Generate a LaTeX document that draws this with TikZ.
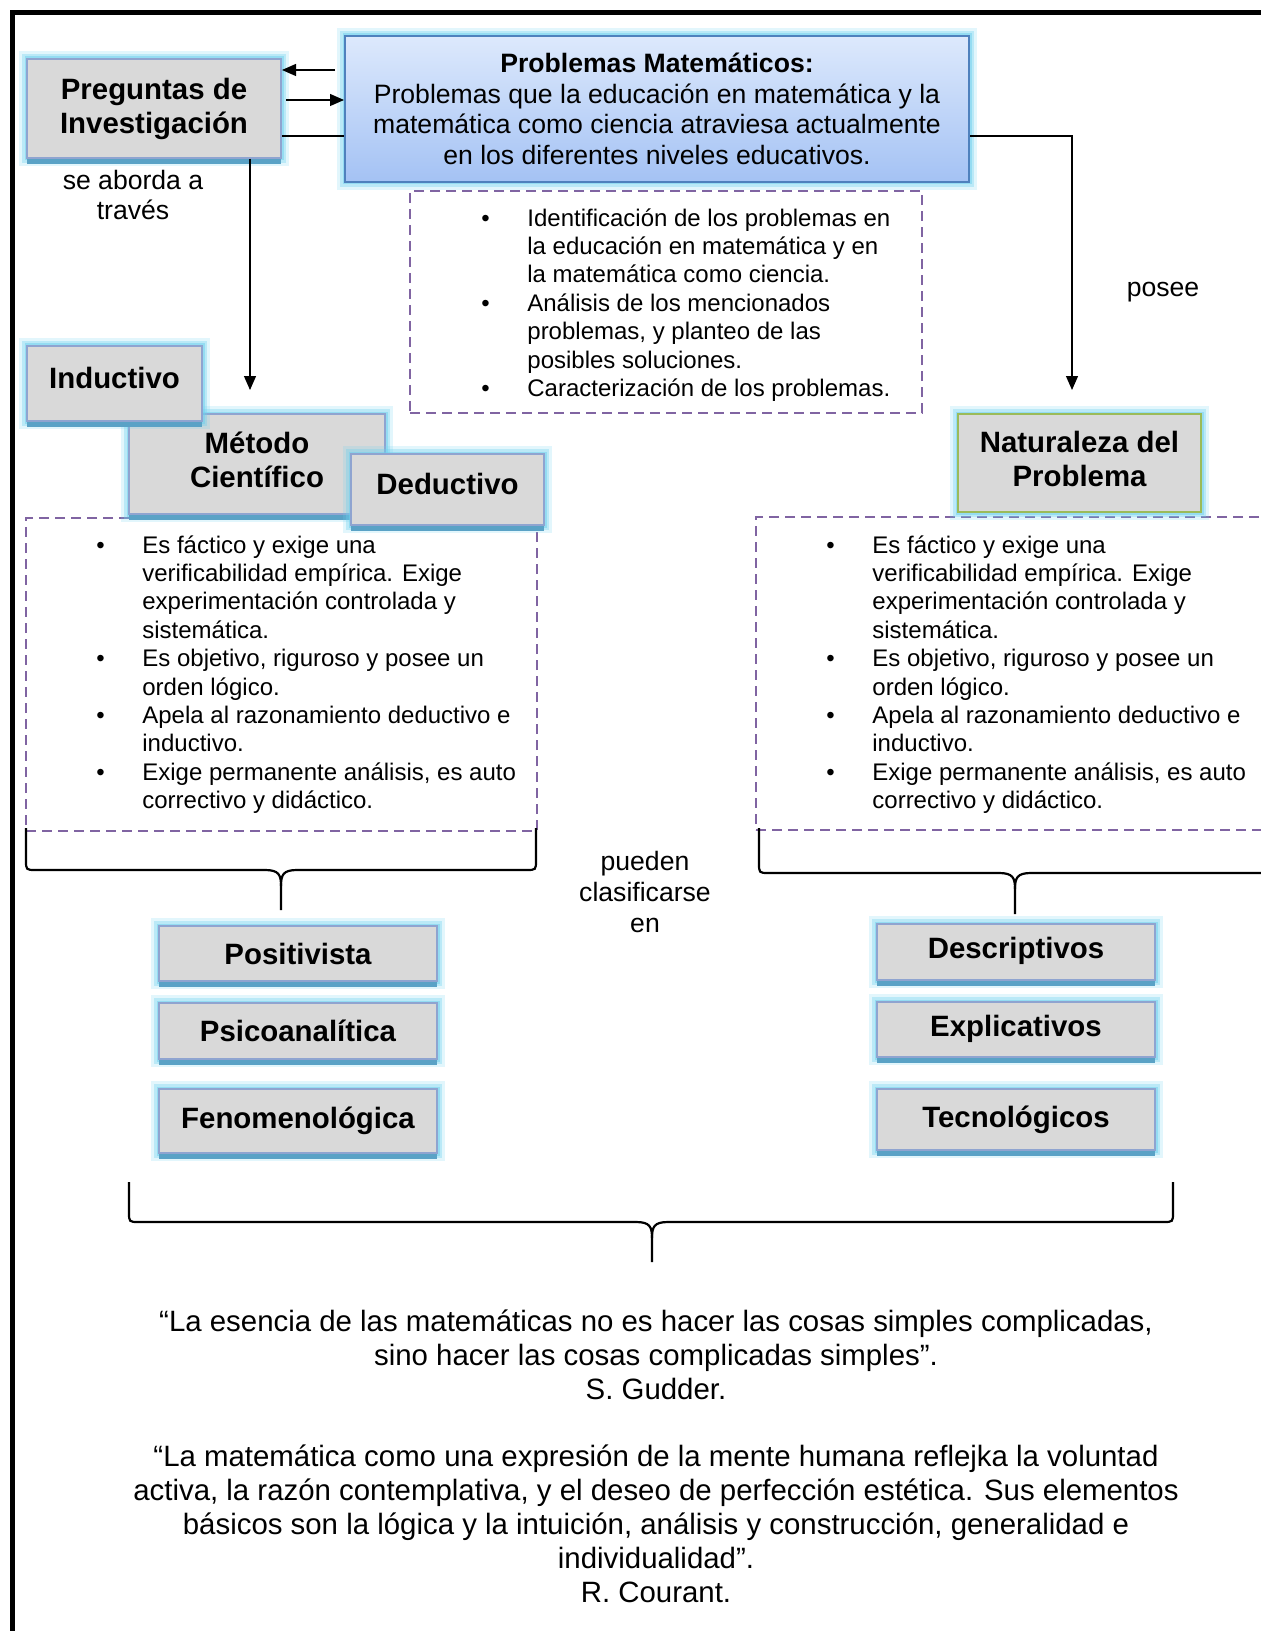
\documentclass[tikz,border=0pt]{standalone}
\usepackage{fontspec}
\setmainfont{Liberation Sans}
\usepackage{tikz}
\usetikzlibrary{arrows.meta,shadows}
\definecolor{boxgray}{HTML}{D9D9D9}
\definecolor{boxedge}{HTML}{8FA4D0}
\definecolor{glowcyan}{HTML}{6FD0EE}
\definecolor{shadowblue}{HTML}{5AA2C6}
\definecolor{probtop}{HTML}{DDE9FC}
\definecolor{probbot}{HTML}{A4C2F4}
\definecolor{probedge}{HTML}{4F81BD}
\definecolor{natedge}{HTML}{9BBB59}
\definecolor{dashpurple}{HTML}{8064A2}

\newcommand{\bigfont}{\fontsize{14.7}{17}\selectfont}
\newcommand{\midfont}{\fontsize{13.3}{15.3}\selectfont}
\newcommand{\smallfont}{\fontsize{12}{14.2}\selectfont}
\newcommand{\bitem}{\makebox[23pt][l]{\textbullet}}
\newcommand{\bpad}{\hspace*{23pt}}
% shift a label up (+) or down (-) inside its box
\newcommand{\lift}[2]{\raisebox{#1}{\begin{tabular}{@{}c@{}}#2\end{tabular}}}

% brace: x1, x2, xc, ytop, ymid, ytip
\newcommand{\wordbrace}[6]{%
  \draw[bracepen] (#1,#4) -- (#1,#5-10) .. controls (#1,#5) .. (#1+10,#5)
    -- (#3-16,#5) .. controls (#3-2,#5) and (#3,#5+5) .. (#3,#5+16) -- (#3,#6);
  \draw[bracepen] (#2,#4) -- (#2,#5-10) .. controls (#2,#5) .. (#2-10,#5)
    -- (#3+16,#5) .. controls (#3+2,#5) and (#3,#5+5) .. (#3,#5+16);
}

\begin{document}
\begin{tikzpicture}[x=0.5pt,y=-0.5pt,
    glow/.style={preaction={draw=glowcyan,line width=8pt,opacity=0.2},
                 preaction={draw=glowcyan,line width=5pt,opacity=0.35},
                 preaction={draw=glowcyan,line width=2.5pt,opacity=0.5}},
    conceptbox/.style={glow,drop shadow={shadow xshift=0pt,shadow yshift=-3pt,fill=shadowblue,opacity=1},
                 draw=boxedge,fill=boxgray,line width=1pt,font=\bigfont\bfseries,align=center,inner sep=0pt},
    probbox/.style={glow,draw=probedge,top color=probtop,bottom color=probbot,line width=1pt,
                 font=\midfont,align=center,inner sep=0pt},
    natbox/.style={glow,draw=natedge,fill=boxgray,line width=1pt,font=\bigfont\bfseries,align=center,inner sep=0pt},
    dashframe/.style={draw=dashpurple,line width=1pt,dash pattern=on 5pt off 3pt,inner sep=0pt},
    listtext/.style={font=\smallfont,align=left,inner sep=0pt,anchor=north west},
    arr/.style={-{Triangle[length=7pt,width=6pt]},line width=0.6pt},
    bracepen/.style={line width=1.1pt},
    quote/.style={font=\bigfont,align=center}]
    \useasboundingbox (0,0) rectangle (1261,1631);
    \clip (0,0) rectangle (1261,1631);

    % Page border
    \draw[line width=2.5pt] (12.5,1640) -- (12.5,12.5) -- (1270,12.5);

    % Dashed frames
    \node[dashframe,minimum width=256pt,minimum height=111pt] (probframe) at (666,302) {};
    \node[dashframe,minimum width=255.5pt,minimum height=156.5pt] (metframe) at (281.5,674.5) {};
    \node[dashframe,minimum width=255.5pt,minimum height=156.5pt] (natframe) at (1011.5,673.5) {};

    % Top boxes
    \node[conceptbox,minimum width=127pt,minimum height=49.5pt] (preg) at (154,108.5) {Preguntas de\\Investigación};
    \node[probbox,minimum width=312pt,minimum height=73pt] (prob) at (657,109)
        {\textbf{Problemas Matemáticos:}\\Problemas que la educación en matemática y la\\matemática como ciencia atraviesa actualmente\\en los diferentes niveles educativos.};

    % Method boxes
    \node[conceptbox,minimum width=128pt,minimum height=50pt] (met) at (257,464) {\lift{6pt}{Método\\Científico}};
    \node[conceptbox,minimum width=87.5pt,minimum height=37.5pt] (ind) at (114.5,383.5) {\lift{7pt}{Inductivo}};
    \node[conceptbox,minimum width=96.5pt,minimum height=35.5pt] (ded) at (447.5,489.5) {\lift{7pt}{Deductivo}};
    \node[natbox,minimum width=121.5pt,minimum height=49pt] (nat) at (1079.5,463) {\lift{3pt}{Naturaleza del\\Problema}};

    % Connectors
    \coordinate (ptop) at (335,70);
    \coordinate (pmid) at (286,100);
    \coordinate (metarr) at (250,390);
    \coordinate (natarr) at (1072,390);
    \draw[arr] (ptop) -- (preg.east |- ptop);
    \draw[arr] (pmid) -- (prob.west |- pmid);
    \draw[line width=0.6pt] (preg.east |- 0,136) -- (prob.west |- 0,136);
    \draw[arr] (preg.south -| metarr) -- (metarr);
    \draw[arr] (prob.east |- 0,136) -| (natarr);

    % Labels
    \node[font=\midfont,align=center] (sabo) at (133,195) {se aborda a\\través};
    \node[font=\midfont] (posee) at (1163,292) {posee};
    \node[font=\midfont,align=center] (pueden) at (645,892) {pueden\\clasificarse\\en};

    % Lists
    \node[listtext] (problist) at (481,208) {\bitem Identificación de los problemas en\\
        \bpad la educación en matemática y en\\ \bpad la matemática como ciencia.\\
        \bitem Análisis de los mencionados\\ \bpad problemas, y planteo de las\\
        \bpad posibles soluciones.\\ \bitem Caracterización de los problemas.};
    \node[listtext] (metlist) at (96,535) {\bitem Es fáctico y exige una\\
        \bpad verificabilidad empírica. Exige\\ \bpad experimentación controlada y\\ \bpad sistemática.\\
        \bitem Es objetivo, riguroso y posee un\\ \bpad orden lógico.\\
        \bitem Apela al razonamiento deductivo e\\ \bpad inductivo.\\
        \bitem Exige permanente análisis, es auto\\ \bpad correctivo y didáctico.};
    \node[listtext] (natlist) at (826,535) {\bitem Es fáctico y exige una\\
        \bpad verificabilidad empírica. Exige\\ \bpad experimentación controlada y\\ \bpad sistemática.\\
        \bitem Es objetivo, riguroso y posee un\\ \bpad orden lógico.\\
        \bitem Apela al razonamiento deductivo e\\ \bpad inductivo.\\
        \bitem Exige permanente análisis, es auto\\ \bpad correctivo y didáctico.};

    % Braces
    \wordbrace{26}{536}{281}{828}{870}{910}
    \wordbrace{759}{1271}{1015}{828}{873}{914}
    \wordbrace{129}{1173}{652}{1182}{1222}{1262}

    % Class boxes
    \node[conceptbox,minimum width=139pt,minimum height=27.5pt] (pos) at (298,953.5) {Positivista};
    \node[conceptbox,minimum width=139pt,minimum height=28pt] (psi) at (298,1031) {Psicoanalítica};
    \node[conceptbox,minimum width=139pt,minimum height=32pt] (fen) at (298,1121) {Fenomenológica};
    \node[conceptbox,minimum width=139pt,minimum height=28pt] (des) at (1016,952) {\lift{-4pt}{Descriptivos}};
    \node[conceptbox,minimum width=139pt,minimum height=27.5pt] (exp) at (1016,1029.5) {\lift{-3pt}{Explicativos}};
    \node[conceptbox,minimum width=139pt,minimum height=30.5pt] (tec) at (1016,1119.5) {Tecnológicos};

    % Quotes
    \node[quote] (gudder) at (656,1355) {“La esencia de las matemáticas no es hacer las cosas simples complicadas,\\
        sino hacer las cosas complicadas simples”.\\ S. Gudder.};
    \node[quote] (courant) at (656,1524) {“La matemática como una expresión de la mente humana reflejka la voluntad\\
        activa, la razón contemplativa, y el deseo de perfección estética. Sus elementos\\
        básicos son la lógica y la intuición, análisis y construcción, generalidad e\\
        individualidad”.\\ R. Courant.};
\end{tikzpicture}
\end{document}
